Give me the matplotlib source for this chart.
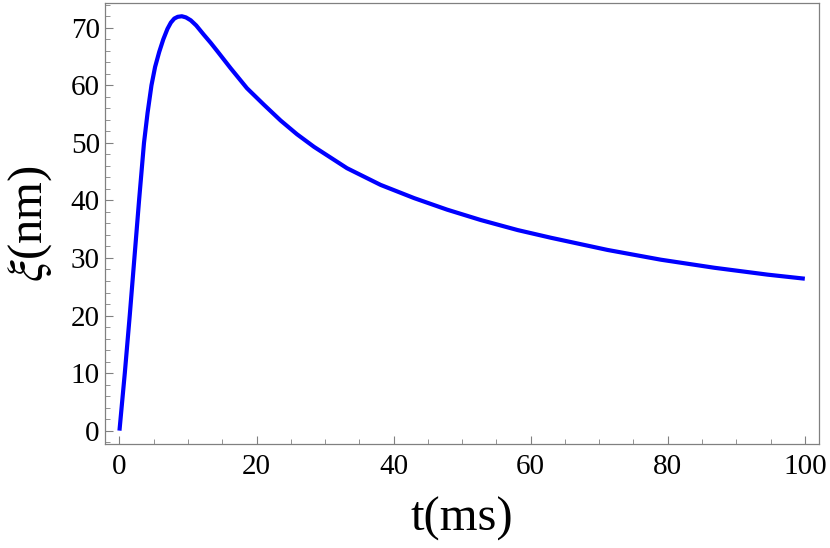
import matplotlib
matplotlib.use('Agg')
import matplotlib.pyplot as plt
from matplotlib.ticker import MultipleLocator

plt.rcParams['font.family'] = ['Liberation Serif', 'DejaVu Serif']
plt.rcParams['mathtext.fontset'] = 'stix'

# values
t_ms = [0, 0.78, 1.5, 2.18, 2.86, 3.58, 4.1, 4.67, 5.2, 5.8, 6.4,
        7.0, 7.5, 8.0, 8.5, 9.1, 9.7, 10.4, 11.2, 12.3, 13.3, 14.3, 16.2,
        18.6, 21.1, 23.5, 25.9, 28.4, 33.2, 38.1, 43.0, 47.8, 52.7, 58.1,
        63, 71.2, 79, 86.8, 94.6, 100]
xi_nm = [0, 10, 20, 30, 40, 50, 55.2, 60, 63.2, 65.8, 68.0,
         69.8, 70.9, 71.6, 71.9, 72.0, 71.8, 71.3, 70.4, 68.8, 67.4, 65.9, 63.0,
         59.5, 56.6, 53.9, 51.5, 49.3, 45.6, 42.7, 40.4, 38.4, 36.6, 34.85,
         33.5, 31.4, 29.7, 28.3, 27.1, 26.4]

fig = plt.figure(figsize=(8.3, 5.48), dpi=100)
ax = fig.add_axes([0.127, 0.190, 0.860, 0.8045])

ax.plot(t_ms, xi_nm, color='#0000ff', linewidth=3, solid_capstyle='butt',
        solid_joinstyle='round')

ax.set_xlim(-2.05, 102.1)
ax.set_ylim(-2.3, 74.3)
ax.xaxis.set_major_locator(MultipleLocator(20))
ax.xaxis.set_minor_locator(MultipleLocator(5))
ax.yaxis.set_major_locator(MultipleLocator(10))
ax.yaxis.set_minor_locator(MultipleLocator(2))

for s in ax.spines.values():
    s.set_color('#808080')
    s.set_linewidth(0.9)

ax.tick_params(which='both', direction='in', color='#808080', top=False, right=False)
ax.tick_params(which='major', length=6, width=0.8)
ax.tick_params(which='minor', length=3.3, width=0.6)
ax.tick_params(axis='x', labelsize=21, pad=7)
ax.tick_params(axis='y', labelsize=21, pad=4)

ax.set_xlabel('t(ms)', fontsize=35, labelpad=12)
ax.set_ylabel(r'$\xi$(nm)', fontsize=35, labelpad=12)

fig.savefig('out.png', dpi=100)
